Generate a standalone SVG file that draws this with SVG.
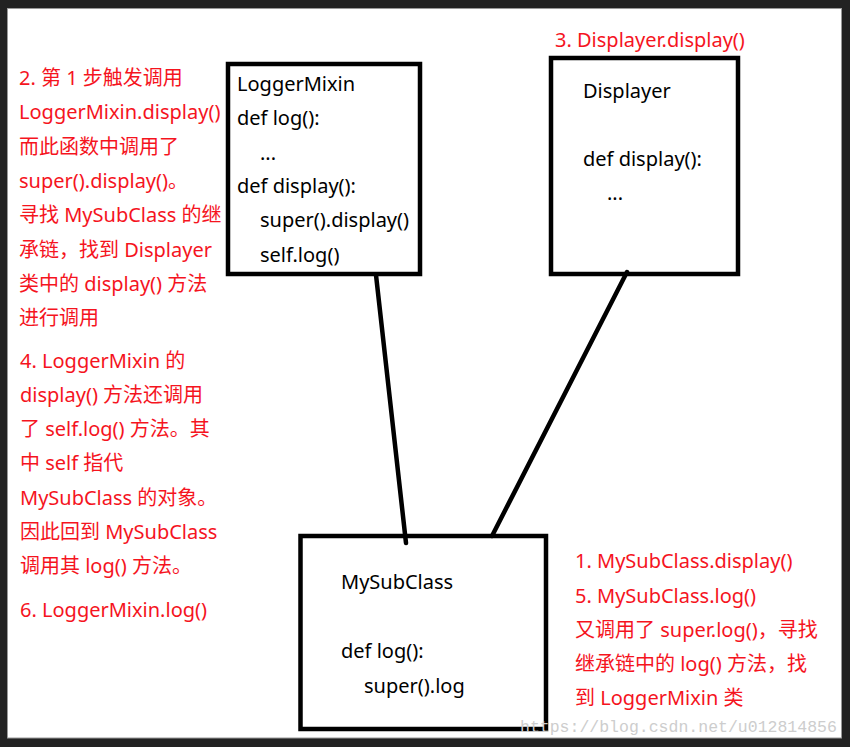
<svg xmlns="http://www.w3.org/2000/svg" width="850" height="747" viewBox="0 0 850 747">
<style>
.box{fill:#fff;stroke:#000;stroke-width:4.5}
.t{font-family:"Noto Sans","Noto Sans CJK SC",sans-serif;font-size:20px;fill:#000}
.r{font-family:"Noto Sans","Noto Sans CJK SC",sans-serif;font-size:20px;fill:#f5141e}
.edge{stroke:#000;stroke-width:4.5;stroke-linecap:round;fill:none}
.wm{font-family:"Liberation Mono",monospace;font-size:16.5px;fill:#cdcdcd}
</style>
<rect x="0" y="0" width="850" height="747" fill="#222"/>
<rect x="7.5" y="8.5" width="834" height="729.5" fill="#fff" stroke="#999" stroke-width="1"/>

<g id="LoggerMixin">
<rect class="box" x="228" y="64" width="192" height="210"/>
<text class="t" x="237" y="91">LoggerMixin</text>
<text class="t" x="237" y="125">def log():</text>
<text class="t" x="260" y="159.5">...</text>
<text class="t" x="237" y="193">def display():</text>
<text class="t" x="260" y="227">super().display()</text>
<text class="t" x="260" y="261.5">self.log()</text>
</g>

<g id="Displayer">
<rect class="box" x="551" y="58" width="187" height="216"/>
<text class="t" x="583" y="97.5">Displayer</text>
<text class="t" x="583" y="165.5">def display():</text>
<text class="t" x="607" y="200">...</text>
</g>

<g id="MySubClass">
<rect class="box" x="300.5" y="536" width="245.5" height="193"/>
<text class="t" x="341" y="589">MySubClass</text>
<text class="t" x="341" y="657.5">def log():</text>
<text class="t" x="364" y="693">super().log</text>
</g>

<g id="connectors">
<line class="edge" x1="376" y1="275" x2="406" y2="543"/>
<line class="edge" x1="627" y1="272" x2="492" y2="536"/>
</g>

<g id="note-displayer">
<text class="r" x="555" y="47">3. Displayer.display()</text>
</g>

<g id="note-left-1">
<text class="r" x="19" y="85">2. 第 1 步触发调用</text>
<text class="r" x="19" y="119.3">LoggerMixin.display()</text>
<text class="r" x="19" y="153.6">而此函数中调用了</text>
<text class="r" x="19" y="187.9">super().display()。</text>
<text class="r" x="19" y="222.2">寻找 MySubClass 的继</text>
<text class="r" x="19" y="256.5">承链，找到 Displayer</text>
<text class="r" x="19" y="290.8">类中的 display() 方法</text>
<text class="r" x="19" y="325.1">进行调用</text>
</g>

<g id="note-left-2">
<text class="r" x="20" y="368">4. LoggerMixin 的</text>
<text class="r" x="20" y="402">display() 方法还调用</text>
<text class="r" x="20" y="436">了 self.log() 方法。其</text>
<text class="r" x="20" y="470">中 self 指代</text>
<text class="r" x="20" y="504.5">MySubClass 的对象。</text>
<text class="r" x="20" y="538.5">因此回到 MySubClass</text>
<text class="r" x="20" y="572.5">调用其 log() 方法。</text>
<text class="r" x="20" y="617">6. LoggerMixin.log()</text>
</g>

<g id="note-right">
<text class="r" x="575" y="568">1. MySubClass.display()</text>
<text class="r" x="575" y="602.5">5. MySubClass.log()</text>
<text class="r" x="575" y="637">又调用了 super.log()，寻找</text>
<text class="r" x="575" y="671">继承链中的 log() 方法，找</text>
<text class="r" x="575" y="705">到 LoggerMixin 类</text>
</g>

<text class="wm" x="520" y="732">https://blog.csdn.net/u012814856</text>
</svg>
